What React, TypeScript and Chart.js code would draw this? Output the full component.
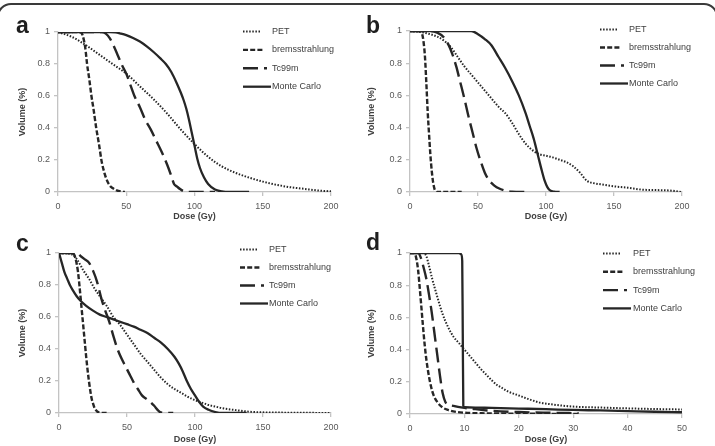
import { useEffect, useRef } from 'react';
import { Chart, registerables } from 'chart.js';

Chart.register(...registerables);

type Pt = [number, number];

// Series names, in legend order
const SERIES = ['PET', 'bremsstrahlung', 'Tc99m', 'Monte Carlo'];

// Axis ticks
const VOLUME_TICKS = [0, 0.2, 0.4, 0.6, 0.8, 1];
const DOSE_TICKS_WIDE = [0, 50, 100, 150, 200];
const DOSE_TICKS_NARROW = [0, 10, 20, 30, 40, 50];

// ---- Panel a: dose (Gy) vs fractional volume ----
const petA: Pt[] = [[0, 1], [10, 0.97], [20, 0.92], [30, 0.86], [40, 0.8], [50, 0.74], [60, 0.66], [70, 0.58], [80, 0.49], [90, 0.39], [100, 0.3], [110, 0.22], [120, 0.16], [130, 0.12], [140, 0.09], [150, 0.065], [160, 0.045], [170, 0.03], [180, 0.02], [190, 0.01], [200, 0.004]];
const bremA: Pt[] = [[0, 1], [16, 1], [18, 0.98], [20, 0.9], [21.3, 0.8], [23, 0.7], [24.5, 0.6], [26, 0.52], [28, 0.4], [30, 0.3], [32, 0.19], [34, 0.12], [36, 0.07], [38, 0.04], [40, 0.025], [43, 0.01], [46, 0.003], [49, 0]];
const tcA: Pt[] = [[0, 1], [32, 1], [35, 0.99], [38, 0.96], [41, 0.91], [44, 0.85], [47, 0.79], [50, 0.74], [53, 0.67], [56, 0.6], [60, 0.53], [64, 0.45], [68, 0.39], [72, 0.32], [76, 0.25], [80, 0.17], [83, 0.1], [85, 0.05], [87, 0.035], [90, 0.015], [93, 0.003], [100, 0], [115, 0]];
const mcA: Pt[] = [[0, 1], [38, 1], [42, 0.998], [46, 0.99], [50, 0.98], [55, 0.962], [60, 0.94], [65, 0.91], [70, 0.875], [75, 0.835], [79, 0.8], [83, 0.75], [87, 0.68], [90, 0.62], [92, 0.575], [94, 0.52], [96, 0.45], [98, 0.37], [100, 0.29], [102, 0.21], [104, 0.15], [107, 0.09], [110, 0.05], [115, 0.015], [120, 0.004], [125, 0], [140, 0]];

// ---- Panel b ----
const petB: Pt[] = [[0, 1], [10, 0.99], [20, 0.965], [25, 0.94], [30, 0.9], [35, 0.84], [40, 0.78], [45, 0.73], [50, 0.68], [55, 0.63], [60, 0.58], [65, 0.53], [70, 0.49], [75, 0.43], [80, 0.36], [85, 0.3], [90, 0.26], [95, 0.235], [100, 0.225], [105, 0.215], [110, 0.2], [115, 0.185], [120, 0.16], [125, 0.12], [130, 0.07], [135, 0.055], [140, 0.048], [150, 0.035], [160, 0.027], [170, 0.015], [180, 0.012], [190, 0.01], [200, 0]];
const bremB: Pt[] = [[0, 1], [8, 1], [9, 0.98], [10, 0.93], [11, 0.84], [12, 0.68], [13, 0.5], [14, 0.36], [15, 0.23], [16, 0.13], [17, 0.06], [18, 0.02], [19, 0.005], [20, 0], [38, 0]];
const tcB: Pt[] = [[0, 1], [15, 1], [20, 0.99], [25, 0.96], [28, 0.92], [31, 0.86], [34, 0.78], [37, 0.68], [40, 0.58], [43, 0.47], [46, 0.37], [49, 0.27], [52, 0.19], [55, 0.12], [58, 0.075], [62, 0.04], [66, 0.02], [70, 0.008], [75, 0.002], [85, 0]];
const mcB: Pt[] = [[0, 1], [45, 1], [50, 0.98], [55, 0.95], [60, 0.91], [65, 0.84], [70, 0.77], [75, 0.69], [80, 0.6], [85, 0.49], [88, 0.41], [91, 0.33], [94, 0.23], [97, 0.13], [99, 0.07], [101, 0.03], [103, 0.01], [106, 0.002], [110, 0]];

// ---- Panel c ----
const petC: Pt[] = [[0, 1], [10, 0.99], [14, 0.95], [18, 0.89], [22, 0.84], [26, 0.78], [30, 0.73], [35, 0.67], [40, 0.6], [45, 0.55], [50, 0.49], [55, 0.43], [60, 0.37], [65, 0.32], [70, 0.27], [75, 0.22], [80, 0.18], [85, 0.15], [90, 0.125], [95, 0.1], [100, 0.08], [105, 0.065], [110, 0.05], [115, 0.04], [120, 0.03], [130, 0.018], [140, 0.008], [150, 0.004], [170, 0.002], [200, 0]];
const bremC: Pt[] = [[0, 1], [10, 1], [12, 0.97], [14, 0.88], [15, 0.8], [16, 0.71], [17, 0.62], [18, 0.53], [19, 0.44], [20, 0.35], [21, 0.27], [22, 0.2], [23, 0.14], [24, 0.09], [25, 0.06], [26, 0.035], [28, 0.01], [30, 0.002], [35, 0]];
const tcC: Pt[] = [[0, 1], [13, 1], [16, 0.98], [19, 0.96], [22, 0.94], [25, 0.89], [28, 0.82], [31, 0.72], [34, 0.64], [37, 0.57], [40, 0.48], [43, 0.4], [46, 0.34], [49, 0.29], [52, 0.24], [55, 0.19], [58, 0.15], [61, 0.11], [64, 0.09], [67, 0.07], [70, 0.045], [73, 0.015], [75, 0.003], [84, 0]];
const mcC: Pt[] = [[0, 1], [2, 0.94], [4, 0.88], [6, 0.84], [8, 0.8], [10, 0.77], [13, 0.73], [16, 0.7], [20, 0.67], [25, 0.64], [30, 0.615], [35, 0.6], [40, 0.585], [45, 0.57], [50, 0.555], [55, 0.54], [60, 0.52], [65, 0.5], [70, 0.47], [75, 0.44], [80, 0.4], [85, 0.35], [88, 0.31], [91, 0.26], [94, 0.2], [97, 0.15], [100, 0.11], [103, 0.07], [106, 0.04], [110, 0.02], [115, 0.006], [120, 0], [138, 0]];

// ---- Panel d (0-50 Gy) ----
const petD: Pt[] = [[0, 1], [2.5, 1], [3, 0.98], [3.5, 0.92], [4, 0.85], [5, 0.73], [6, 0.62], [7, 0.54], [8, 0.48], [9, 0.44], [10, 0.4], [11, 0.36], [12, 0.32], [13, 0.28], [14, 0.245], [15, 0.21], [16, 0.18], [17, 0.16], [18, 0.14], [20, 0.115], [22, 0.09], [24, 0.07], [26, 0.06], [28, 0.052], [30, 0.046], [35, 0.04], [40, 0.035], [45, 0.031], [50, 0.028]];
const bremD: Pt[] = [[0, 1], [0.8, 1], [1.2, 0.96], [1.5, 0.89], [1.8, 0.78], [2.1, 0.66], [2.4, 0.54], [2.7, 0.43], [3, 0.34], [3.4, 0.25], [3.8, 0.18], [4.3, 0.12], [5, 0.075], [6, 0.04], [7, 0.025], [8.5, 0.013], [10, 0.008], [14, 0.004], [20, 0.002], [31, 0]];
const tcD: Pt[] = [[0, 1], [1.5, 1], [2, 0.97], [2.5, 0.91], [3, 0.84], [3.5, 0.74], [4, 0.63], [4.5, 0.5], [5, 0.37], [5.5, 0.24], [6, 0.13], [6.5, 0.075], [7, 0.06], [8, 0.05], [10, 0.038], [12, 0.03], [15, 0.02], [20, 0.012], [25, 0.008], [31, 0.005]];
const mcD: Pt[] = [[0, 1], [9, 1], [9.45, 0.99], [9.6, 0.95], [9.7, 0.5], [9.8, 0.05], [10, 0.042], [12, 0.04], [15, 0.038], [20, 0.034], [25, 0.03], [30, 0.025], [35, 0.022], [40, 0.018], [45, 0.014], [50, 0.011]];

const INK = '#262626';
const AXIS = '#c3c3c3';
const TICK_TEXT = '#595959';
const FONT = "'Liberation Sans', Arial, sans-serif";

// Line styles for PET, bremsstrahlung, Tc99m, Monte Carlo
const STYLES = [
  { dash: [1.5, 1.6], width: 2, legendLen: 18 },
  { dash: [5, 2.2], width: 2.4, legendLen: 19.4 },
  { dash: [15, 6], width: 2.4, legendLen: 24 },
  { dash: [] as number[], width: 2.3, legendLen: 28 },
];

type LegendOpts = { lineX: number; textX: number; top: number; gap: number };

type PanelCfg = {
  letter: string;
  left: number;
  top: number;
  width: number;
  height: number;
  pad: { left: number; top: number; right: number; bottom: number };
  yWidth: number;
  xHeight: number;
  yTitlePad: number;
  xMax: number;
  xTicks: number[];
  series: Pt[][];
  legend: LegendOpts;
  letterLeft: number;
  letterTop: number;
};

const PANELS: PanelCfg[] = [
  {
    letter: 'a', left: 0, top: 0, width: 357, height: 223,
    pad: { left: 0, top: 32, right: 26, bottom: 0 }, yWidth: 58, xHeight: 31, yTitlePad: 16.8,
    xMax: 200, xTicks: DOSE_TICKS_WIDE, series: [petA, bremA, tcA, mcA],
    legend: { lineX: -88, textX: -59, top: -0.5, gap: 18.4 },
    letterLeft: 16, letterTop: 13.5,
  },
  {
    letter: 'b', left: 357, top: 0, width: 358, height: 223,
    pad: { left: 0, top: 31, right: 33, bottom: 0 }, yWidth: 53, xHeight: 31, yTitlePad: 9.3,
    xMax: 200, xTicks: DOSE_TICKS_WIDE, series: [petB, bremB, tcB, mcB],
    legend: { lineX: -82, textX: -53, top: -1.5, gap: 18 },
    letterLeft: 366, letterTop: 13.5,
  },
  {
    letter: 'c', left: 0, top: 223, width: 357, height: 223,
    pad: { left: 0, top: 30, right: 26, bottom: 0 }, yWidth: 59, xHeight: 33, yTitlePad: 16.8,
    xMax: 200, xTicks: DOSE_TICKS_WIDE, series: [petC, bremC, tcC, mcC],
    legend: { lineX: -91, textX: -62, top: -3.5, gap: 18 },
    letterLeft: 16, letterTop: 231.5,
  },
  {
    letter: 'd', left: 357, top: 223, width: 358, height: 223,
    pad: { left: 0, top: 30, right: 33, bottom: 0 }, yWidth: 53, xHeight: 32, yTitlePad: 9.3,
    xMax: 50, xTicks: DOSE_TICKS_NARROW, series: [petD, bremD, tcD, mcD],
    legend: { lineX: -79, textX: -49, top: 0.5, gap: 18.3 },
    letterLeft: 366, letterTop: 230.5,
  },
];

// Legend drawn over the upper-right of the plot area, line sample + label
const sideLegend = {
  id: 'sideLegend',
  afterDraw(chart: any, _args: any, opts: LegendOpts) {
    const { ctx, chartArea } = chart;
    chart.data.datasets.forEach((ds: any, i: number) => {
      const st = STYLES[i];
      const y = chartArea.top + opts.top + i * opts.gap;
      const x0 = chartArea.right + opts.lineX;
      ctx.save();
      ctx.strokeStyle = INK;
      ctx.lineWidth = st.width;
      ctx.setLineDash(st.dash);
      ctx.beginPath();
      ctx.moveTo(x0, y);
      ctx.lineTo(x0 + st.legendLen, y);
      ctx.stroke();
      ctx.setLineDash([]);
      ctx.fillStyle = '#404040';
      ctx.font = `9px ${FONT}`;
      ctx.textBaseline = 'middle';
      ctx.textAlign = 'left';
      ctx.fillText(ds.label, chartArea.right + opts.textX, y);
      ctx.restore();
    });
  },
};

function Panel({ cfg }: { cfg: PanelCfg }) {
  const ref = useRef<HTMLCanvasElement>(null);

  useEffect(() => {
    if (!ref.current) return;
    const tickList = cfg.xTicks;
    const chart = new Chart(ref.current, {
      type: 'line',
      data: {
        datasets: cfg.series.map((pts, i) => ({
          label: SERIES[i],
          data: pts.map(([x, y]) => ({ x, y })),
          borderColor: INK,
          borderWidth: STYLES[i].width,
          borderDash: STYLES[i].dash,
          pointRadius: 0,
          fill: false,
          cubicInterpolationMode: 'monotone' as const,
        })),
      },
      options: {
        responsive: false,
        animation: false,
        devicePixelRatio: 1,
        layout: { padding: cfg.pad },
        plugins: {
          legend: { display: false },
          tooltip: { enabled: false },
          sideLegend: cfg.legend,
        } as any,
        scales: {
          x: {
            type: 'linear',
            min: 0,
            max: cfg.xMax,
            afterBuildTicks: (s: any) => {
              s.ticks = tickList.map((v) => ({ value: v }));
            },
            afterFit: (s: any) => {
              s.height = cfg.xHeight;
            },
            border: { display: true, color: AXIS, width: 1.3 },
            grid: { drawOnChartArea: false, drawTicks: true, tickLength: 4, color: AXIS, lineWidth: 1.3 },
            ticks: {
              color: TICK_TEXT,
              font: { family: FONT, size: 9 },
              padding: 5,
              maxRotation: 0,
              autoSkip: false,
              callback: (v: any) => `${v}`,
            },
            title: {
              display: true,
              text: 'Dose (Gy)',
              color: '#404040',
              font: { family: FONT, size: 9, weight: 'bold' },
              padding: { top: 0, bottom: 0.6 },
            },
          },
          y: {
            type: 'linear',
            min: 0,
            max: 1,
            afterBuildTicks: (s: any) => {
              s.ticks = VOLUME_TICKS.map((v) => ({ value: v }));
            },
            afterFit: (s: any) => {
              s.width = cfg.yWidth;
            },
            border: { display: true, color: AXIS, width: 1.3 },
            grid: { drawOnChartArea: false, drawTicks: true, tickLength: 4, color: AXIS, lineWidth: 1.3 },
            ticks: {
              color: TICK_TEXT,
              font: { family: FONT, size: 9 },
              padding: 4,
              callback: (v: any) => `${v}`,
            },
            title: {
              display: true,
              text: 'Volume (%)',
              color: '#404040',
              font: { family: FONT, size: 9, weight: 'bold' },
              padding: { top: cfg.yTitlePad, bottom: 0 },
            },
          },
        },
      },
      plugins: [sideLegend],
    });
    return () => chart.destroy();
  }, [cfg]);

  return (
    <canvas
      ref={ref}
      width={cfg.width}
      height={cfg.height}
      style={{ position: 'absolute', left: cfg.left, top: cfg.top, width: cfg.width, height: cfg.height }}
    />
  );
}

export default function App() {
  return (
    <div
      style={{
        position: 'fixed',
        left: 0,
        top: 0,
        width: 715,
        height: 446,
        overflow: 'hidden',
        background: '#fff',
      }}
    >
      {PANELS.map((p) => (
        <Panel key={p.letter} cfg={p} />
      ))}
      {PANELS.map((p) => (
        <div
          key={`l-${p.letter}`}
          style={{
            position: 'absolute',
            left: p.letterLeft,
            top: p.letterTop,
            font: "bold 23px 'Liberation Sans', Arial, sans-serif",
            lineHeight: '23px',
            color: '#1e1e1e',
          }}
        >
          {p.letter}
        </div>
      ))}
      <div
        style={{
          position: 'absolute',
          left: -3,
          top: 3,
          width: 721,
          height: 700,
          border: '2px solid #3a3a3a',
          borderRadius: 14,
          boxSizing: 'border-box',
          pointerEvents: 'none',
        }}
      />
    </div>
  );
}
